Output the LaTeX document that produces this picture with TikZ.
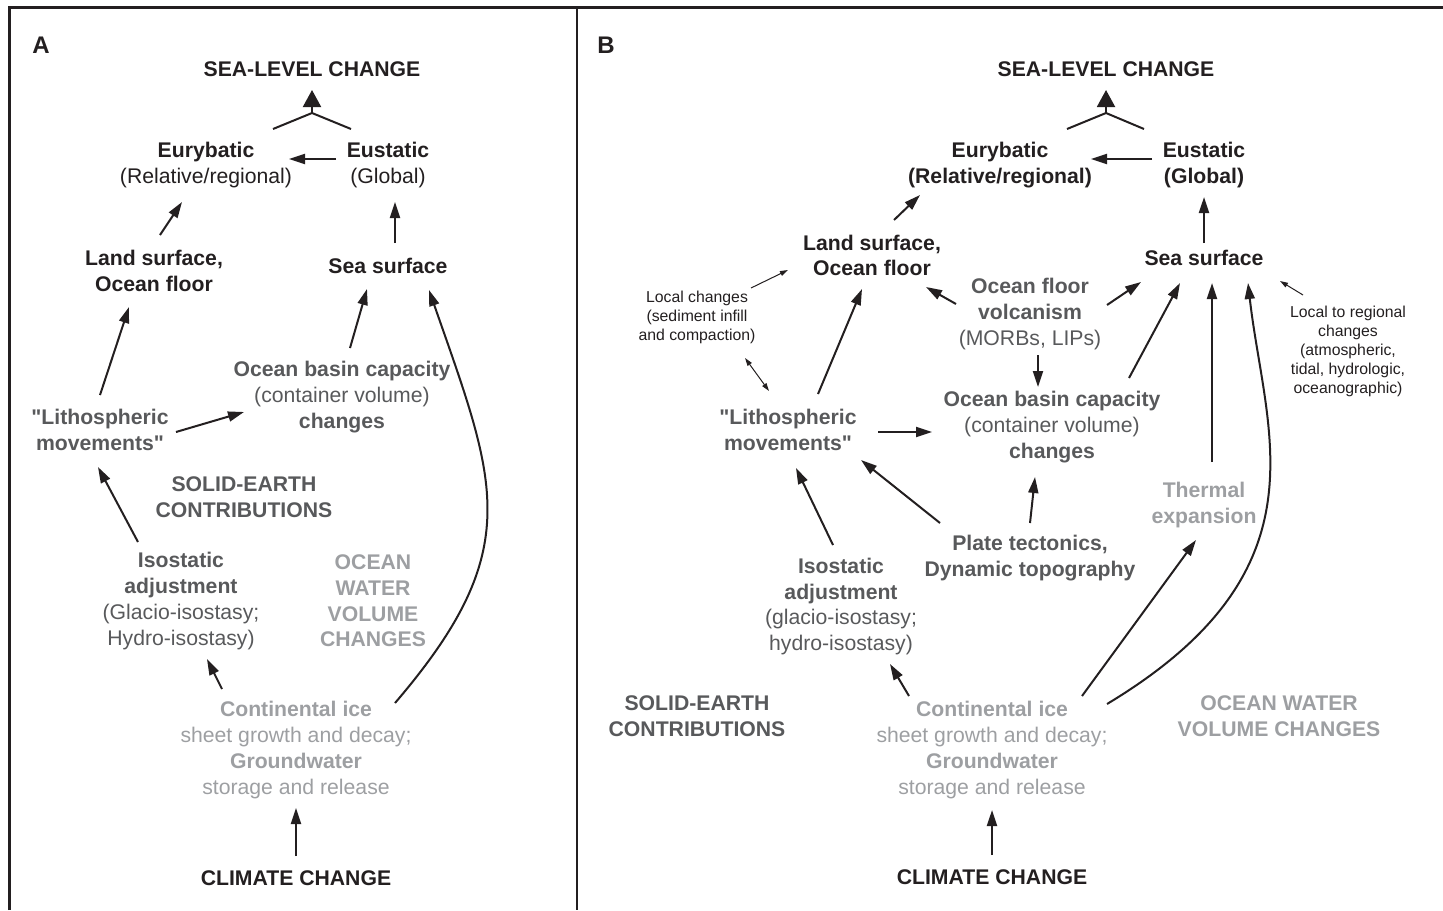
\documentclass[tikz,border=0pt]{standalone}
\usepackage{fontspec}
\setmainfont{Liberation Sans}
\usetikzlibrary{arrows.meta,calc}

\definecolor{ink}{HTML}{231F20}
\definecolor{midgray}{HTML}{58595B}
\definecolor{palegray}{HTML}{9D9FA2}

\newcommand{\dq}{\XeTeXglyph\XeTeXcharglyph"22\relax}

\tikzset{
	txt/.style={inner sep=0pt, align=center, text=ink, font=\fontsize{10.6}{12.85}\selectfont},
	head/.style={txt, font=\fontsize{10.6}{12.85}\selectfont\bfseries},
	tag/.style={txt, font=\fontsize{12}{14}\selectfont\bfseries},
	note/.style={txt, font=\fontsize{7.9}{9.5}\selectfont},
	dark/.style={text=midgray},
	pale/.style={text=palegray},
	arr/.style={draw=ink, line width=1pt, -{Triangle[length=8pt,width=5pt]}},
	fine/.style={draw=ink, line width=0.5pt, -{Triangle[length=4pt,width=2.5pt]}},
	joint/.style={draw=ink, line width=1pt},
	bigtip/.style={draw=ink, line width=1pt, -{Triangle[length=8.5pt,width=9pt]}}
}

\begin{document}
\begin{tikzpicture}[x=0.5pt, y=-0.5pt]
	\useasboundingbox (0,0) rectangle (1443,910);

	% frame
	\draw[ink, line width=1.5pt] (9,910) -- (9,7) -- (1443,7);
	\draw[ink, line width=1pt] (577,7) -- (577,910);

	% panel A
	\node[tag] (labA) at (41,45) {A};
	\node[head] (slcA) at (312,69) {SEA-LEVEL CHANGE};
	\node[txt] (euryA) at (206,165) {\textbf{Eurybatic}\\(Relative/regional)};
	\node[txt] (eustA) at (388,165) {\textbf{Eustatic}\\(Global)};
	\node[head] (landA) at (154,271) {Land surface,\\Ocean floor};
	\node[head] (seaA) at (388,266) {Sea surface};
	\node[txt, dark] (basinA) at (342,397) {\textbf{Ocean basin capacity}\\(container volume)\\\textbf{changes}};
	\node[head, dark] (lithA) at (100,430) {\dq Lithospheric\\movements\dq};
	\node[head, dark] (solidA) at (244,497) {SOLID-EARTH\\CONTRIBUTIONS};
	\node[txt, dark] (isoA) at (181,601) {\textbf{Isostatic}\\\textbf{adjustment}\\(Glacio-isostasy;\\Hydro-isostasy)};
	\node[head, pale] (oceanA) at (373,601) {OCEAN\\WATER\\VOLUME\\CHANGES};
	\node[txt, pale] (iceA) at (296,750) {\textbf{Continental ice}\\sheet growth and decay;\\\textbf{Groundwater}\\storage and release};
	\node[head] (climA) at (296,878) {CLIMATE CHANGE};

	\coordinate (joinA) at ($(slcA.center)+(0,44)$);
	\draw[joint] ($(euryA.center)+(67,-36)$) -- (joinA) -- ($(eustA.center)+(-37,-36)$);
	\draw[bigtip] (joinA) -- ($(slcA.center)+(0,21)$);
	\draw[arr] ($(eustA.center)+(-52,-6)$) -- ($(euryA.center)+(83,-6)$);
	\draw[arr] ($(landA.center)+(6,-36)$) -- ($(euryA.center)+(-24,37)$);
	\draw[arr] ($(seaA.center)+(7,-23)$) -- ($(eustA.center)+(7,37)$);
	\draw[arr] ($(lithA.center)+(0,-35)$) -- ($(landA.center)+(-25,36)$);
	\draw[arr] ($(basinA.center)+(8,-49)$) -- ($(seaA.center)+(-21,23)$);
	\draw[arr] ($(iceA.center)+(99,-47)$) .. controls +(132,-154) and +(67.5,193.5) .. ($(seaA.center)+(41,24)$);
	\draw[arr] ($(lithA.center)+(76,2)$) -- ($(basinA.center)+(-98,15)$);
	\draw[arr] ($(isoA.center)+(-43,-59)$) -- ($(lithA.center)+(-2,37)$);
	\draw[arr] ($(iceA.center)+(-74,-61)$) -- ($(isoA.center)+(26,58)$);
	\draw[arr] ($(climA.center)+(0,-22)$) -- ($(iceA.center)+(0,58)$);

	% panel B
	\node[tag] (labB) at (606,45) {B};
	\node[head] (slcB) at (1106,69) {SEA-LEVEL CHANGE};
	\node[head] (euryB) at (1000,165) {Eurybatic\\(Relative/regional)};
	\node[head] (eustB) at (1204,165) {Eustatic\\(Global)};
	\node[head] (landB) at (872,255.5) {Land surface,\\Ocean floor};
	\node[head] (seaB) at (1204,258) {Sea surface};
	\node[note] (localB) at (697,317) {Local changes\\(sediment infill\\and compaction)};
	\node[txt, dark] (volcB) at (1030,314) {\textbf{Ocean floor}\\\textbf{volcanism}\\(MORBs, LIPs)};
	\node[note] (regB) at (1348,351) {Local to regional\\changes\\(atmospheric,\\tidal, hydrologic,\\oceanographic)};
	\node[txt, dark] (basinB) at (1052,427) {\textbf{Ocean basin capacity}\\(container volume)\\\textbf{changes}};
	\node[head, dark] (lithB) at (788,430) {\dq Lithospheric\\movements\dq};
	\node[head, pale] (thermB) at (1204,505) {Thermal\\expansion};
	\node[head, dark] (plateB) at (1030,558) {Plate tectonics,\\Dynamic topography};
	\node[txt, dark] (isoB) at (841,606.5) {\textbf{Isostatic}\\\textbf{adjustment}\\(glacio-isostasy;\\hydro-isostasy)};
	\node[head, dark] (solidB) at (697,716.5) {SOLID-EARTH\\CONTRIBUTIONS};
	\node[head, pale] (oceanB) at (1279,716.5) {OCEAN WATER\\VOLUME CHANGES};
	\node[txt, pale] (iceB) at (992,750) {\textbf{Continental ice}\\sheet growth and decay;\\\textbf{Groundwater}\\storage and release};
	\node[head] (climB) at (992,877) {CLIMATE CHANGE};

	\coordinate (joinB) at ($(slcB.center)+(0,44)$);
	\draw[joint] ($(euryB.center)+(67,-36)$) -- (joinB) -- ($(eustB.center)+(-60,-36)$);
	\draw[bigtip] (joinB) -- ($(slcB.center)+(0,21)$);
	\draw[arr] ($(eustB.center)+(-52,-6)$) -- ($(euryB.center)+(91,-6)$);
	\draw[arr] ($(landB.center)+(22,-35.5)$) -- ($(euryB.center)+(-80,30)$);
	\draw[arr] ($(seaB.center)+(0,-15)$) -- ($(eustB.center)+(0,32)$);
	\draw[arr] ($(lithB.center)+(30,-36)$) -- ($(landB.center)+(-10,33.5)$);
	\draw[arr] ($(volcB.center)+(-74,-10)$) -- ($(landB.center)+(54,31.5)$);
	\draw[arr] ($(volcB.center)+(77,-9)$) -- ($(seaB.center)+(-63,24)$);
	\draw[arr] ($(basinB.center)+(77,-49)$) -- ($(seaB.center)+(-24,25)$);
	\draw[arr] ($(thermB.center)+(8,-43)$) -- ($(seaB.center)+(8,25)$);
	\draw[arr] ($(iceB.center)+(115,-46)$) .. controls +(223,-134) and +(17,150) .. ($(seaB.center)+(44,25)$);
	\draw[arr] ($(iceB.center)+(90,-54)$) -- ($(thermB.center)+(-8,35)$);
	\draw[arr] ($(volcB.center)+(8,41)$) -- ($(basinB.center)+(-14,-40)$);
	\draw[arr] ($(lithB.center)+(90,2)$) -- ($(basinB.center)+(-120,5)$);
	\draw[arr] ($(plateB.center)+(-90,-35)$) -- ($(lithB.center)+(73,30)$);
	\draw[arr] ($(plateB.center)+(0,-35)$) -- ($(basinB.center)+(-17,50)$);
	\draw[arr] ($(isoB.center)+(-8,-61.5)$) -- ($(lithB.center)+(8,38)$);
	\draw[arr] ($(iceB.center)+(-83,-54)$) -- ($(isoB.center)+(49,57.5)$);
	\draw[arr] ($(climB.center)+(0,-22)$) -- ($(iceB.center)+(0,60)$);
	\draw[fine] ($(localB.center)+(54,-29)$) -- ($(landB.center)+(-84,14.5)$);
	\draw[fine, {Triangle[length=4pt,width=2.5pt]}-{Triangle[length=4pt,width=2.5pt]}] ($(localB.center)+(48,41)$) -- ($(lithB.center)+(-19,-39)$);
	\draw[fine] ($(regB.center)+(-45,-56)$) -- ($(seaB.center)+(76,23)$);
\end{tikzpicture}
\end{document}
